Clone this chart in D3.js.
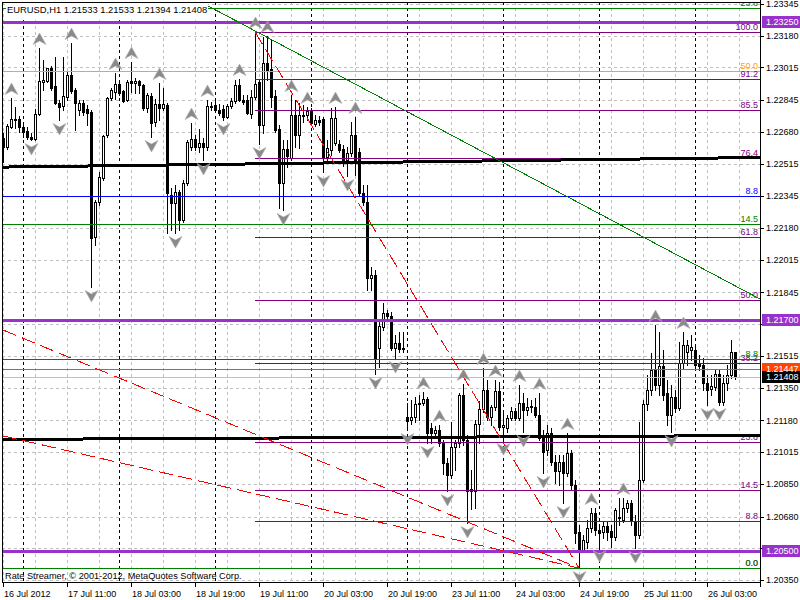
<!DOCTYPE html>
<html><head><meta charset="utf-8">
<script src="https://cdn.jsdelivr.net/npm/d3@7"></script>
<style>body{margin:0;background:#fff}svg{display:block}text{font-family:"Liberation Sans",Arial,sans-serif}</style>
</head><body><svg id="c" width="800" height="600"></svg>
<script>
// ---- DATA (EURUSD H1, 16 Jul 2012 19:00 .. 26 Jul 2012 10:00) ----
const open=[1.22648,1.22602,1.22706,1.22747,1.22747,1.22706,1.22685,1.22654,1.22643,1.22773,
1.22940,1.22945,1.23012,1.22919,1.22830,1.22815,1.22862,1.22976,1.22898,1.22794,
1.22830,1.22799,1.22784,1.22134,1.22316,1.22440,1.22664,1.22856,1.22888,1.22929,
1.22893,1.22846,1.22945,1.22934,1.22945,1.22924,1.22804,1.22867,1.22732,1.22825,
1.22804,1.22820,1.22352,1.22310,1.22368,1.22222,1.22414,1.22602,1.22643,1.22602,
1.22622,1.22602,1.22815,1.22820,1.22794,1.22799,1.22758,1.22815,1.22841,1.22924,
1.22846,1.22846,1.22773,1.22862,1.22940,1.22716,1.23038,1.23007,1.22867,1.22695,
1.22414,1.22591,1.22544,1.22768,1.22664,1.22768,1.22768,1.22789,1.22721,1.22742,
1.22747,1.22550,1.22586,1.22622,1.22617,1.22591,1.22534,1.22570,1.22664,1.22576,
1.22362,1.22316,1.21920,1.21936,1.21556,1.21666,1.21738,1.21723,1.21556,1.21582,
1.21551,1.21198,1.21182,1.21198,1.21265,1.21270,1.21291,1.21140,1.21114,1.21130,
1.21062,1.20958,1.20896,1.21042,1.21062,1.21312,1.21078,1.20813,1.20813,1.21161,
1.21239,1.21338,1.21198,1.21250,1.21333,1.21146,1.21140,1.21192,1.21229,1.21192,
1.21270,1.21234,1.21250,1.21250,1.21208,1.21088,1.21026,1.21114,1.20964,1.20917,
1.20964,1.20906,1.21010,1.20844,1.20600,1.20506,1.20548,1.20620,1.20698,1.20610,
1.20600,1.20631,1.20605,1.20574,1.20672,1.20662,1.20724,1.20750,1.20657,1.20584,
1.20870,1.21265,1.21338,1.21442,1.21364,1.21463,1.21322,1.21208,1.21302,1.21244,
1.21478,1.21536,1.21546,1.21546,1.21478,1.21468,1.21374,1.21343,1.21354,1.21421,
1.21276,1.21374,1.21416,1.21533];
const high=[1.22674,1.22721,1.22856,1.22810,1.22763,1.22732,1.22706,1.22674,1.22799,1.23116,
1.23054,1.23012,1.23023,1.23070,1.22846,1.23070,1.22992,1.23142,1.22908,1.22846,
1.22846,1.22820,1.22794,1.22326,1.22472,1.22664,1.22862,1.22908,1.22986,1.22950,
1.22898,1.22950,1.23044,1.22960,1.22950,1.22929,1.22882,1.22882,1.22851,1.22934,
1.22908,1.22830,1.22388,1.22404,1.22378,1.22430,1.22638,1.22726,1.22664,1.22695,
1.22648,1.22846,1.22836,1.22846,1.22825,1.22820,1.22825,1.22856,1.22950,1.22955,
1.22872,1.22872,1.22898,1.23200,1.22950,1.23174,1.23179,1.23158,1.22898,1.22716,
1.22638,1.22638,1.22872,1.22846,1.22830,1.22820,1.22810,1.22804,1.22768,1.22763,
1.22758,1.22638,1.22804,1.22810,1.22638,1.22612,1.22602,1.22732,1.22758,1.22596,
1.22404,1.22404,1.21978,1.21962,1.21702,1.21790,1.21754,1.21744,1.21624,1.21640,
1.21640,1.21270,1.21286,1.21302,1.21312,1.21328,1.21302,1.21166,1.21151,1.21156,
1.21078,1.20984,1.21172,1.21078,1.21322,1.21369,1.21104,1.20922,1.21182,1.21281,
1.21452,1.21390,1.21260,1.21390,1.21380,1.21234,1.21208,1.21250,1.21244,1.21364,
1.21322,1.21296,1.21286,1.21296,1.21322,1.21130,1.21156,1.21140,1.21000,1.21000,
1.21000,1.21114,1.21026,1.20870,1.20636,1.20584,1.20662,1.20724,1.20724,1.20636,
1.20652,1.20652,1.20636,1.20724,1.20776,1.20776,1.20766,1.20766,1.20688,1.21172,
1.21286,1.21416,1.21530,1.21676,1.21640,1.21546,1.21390,1.21364,1.21338,1.21588,
1.21640,1.21598,1.21624,1.21572,1.21520,1.21504,1.21416,1.21416,1.21442,1.21442,
1.21416,1.21468,1.21598,1.21533];
const low=[1.22524,1.22591,1.22700,1.22700,1.22680,1.22654,1.22643,1.22638,1.22638,1.22768,
1.22898,1.22940,1.22898,1.22825,1.22742,1.22794,1.22846,1.22882,1.22690,1.22768,
1.22768,1.22716,1.21874,1.22092,1.22300,1.22430,1.22654,1.22846,1.22851,1.22872,
1.22836,1.22841,1.22888,1.22882,1.22882,1.22794,1.22784,1.22654,1.22711,1.22742,
1.22794,1.22154,1.22170,1.22154,1.22170,1.22212,1.22404,1.22586,1.22586,1.22576,
1.22534,1.22586,1.22794,1.22784,1.22768,1.22742,1.22752,1.22804,1.22830,1.22841,
1.22825,1.22773,1.22752,1.22851,1.22617,1.22674,1.22950,1.22810,1.22680,1.22284,
1.22274,1.22498,1.22534,1.22602,1.22596,1.22732,1.22742,1.22716,1.22711,1.22716,
1.22472,1.22534,1.22560,1.22612,1.22576,1.22503,1.22451,1.22555,1.22456,1.22352,
1.22300,1.21858,1.21858,1.21421,1.21458,1.21650,1.21712,1.21546,1.21504,1.21536,
1.21536,1.21130,1.21161,1.21172,1.21182,1.21260,1.21062,1.21062,1.21099,1.21047,
1.20901,1.20813,1.20880,1.20922,1.21042,1.21052,1.20646,1.20719,1.20724,1.21062,
1.21224,1.21182,1.21156,1.21234,1.21130,1.21078,1.21120,1.21182,1.21182,1.21182,
1.21120,1.21208,1.21224,1.21198,1.21078,1.20906,1.21000,1.20948,1.20854,1.20844,
1.20750,1.20891,1.20818,1.20542,1.20412,1.20496,1.20516,1.20600,1.20584,1.20522,
1.20568,1.20558,1.20522,1.20558,1.20636,1.20652,1.20704,1.20636,1.20516,1.20568,
1.20860,1.21234,1.21312,1.21338,1.21312,1.21286,1.21156,1.21120,1.21224,1.21234,
1.21452,1.21468,1.21494,1.21452,1.21442,1.21338,1.21260,1.21312,1.21338,1.21260,
1.21260,1.21338,1.21400,1.21394];
const close=[1.22602,1.22711,1.22747,1.22742,1.22706,1.22680,1.22654,1.22643,1.22773,1.22945,
1.22950,1.23012,1.22908,1.22830,1.22810,1.22867,1.22976,1.22893,1.22830,1.22830,
1.22784,1.22778,1.22128,1.22316,1.22446,1.22659,1.22856,1.22898,1.22929,1.22882,
1.22841,1.22940,1.22934,1.22945,1.22924,1.22804,1.22872,1.22726,1.22825,1.22804,
1.22825,1.22362,1.22310,1.22368,1.22222,1.22414,1.22628,1.22643,1.22602,1.22622,
1.22602,1.22815,1.22810,1.22794,1.22778,1.22758,1.22815,1.22841,1.22924,1.22846,
1.22836,1.22778,1.22862,1.22929,1.22716,1.23038,1.23002,1.22862,1.22690,1.22414,
1.22591,1.22555,1.22768,1.22664,1.22768,1.22763,1.22789,1.22726,1.22742,1.22732,
1.22550,1.22596,1.22752,1.22752,1.22586,1.22534,1.22570,1.22664,1.22524,1.22362,
1.22316,1.21920,1.21936,1.21504,1.21671,1.21738,1.21723,1.21556,1.21582,1.21551,
1.21556,1.21177,1.21198,1.21265,1.21270,1.21291,1.21114,1.21114,1.21130,1.21062,
1.20958,1.20896,1.21042,1.21062,1.21312,1.21078,1.20813,1.20823,1.21161,1.21239,
1.21338,1.21198,1.21250,1.21333,1.21146,1.21156,1.21192,1.21229,1.21192,1.21270,
1.21234,1.21250,1.21255,1.21208,1.21088,1.21016,1.21114,1.20964,1.20917,1.20964,
1.20906,1.21010,1.20844,1.20594,1.20506,1.20558,1.20620,1.20698,1.20610,1.20594,
1.20631,1.20600,1.20574,1.20714,1.20678,1.20724,1.20750,1.20657,1.20584,1.20870,
1.21265,1.21338,1.21442,1.21364,1.21463,1.21312,1.21208,1.21302,1.21244,1.21478,
1.21572,1.21572,1.21562,1.21468,1.21463,1.21374,1.21338,1.21359,1.21421,1.21276,
1.21374,1.21416,1.21533,1.21408];

const timeLabels=["16 Jul 2012","17 Jul 11:00","18 Jul 03:00","18 Jul 19:00","19 Jul 11:00","20 Jul 03:00",
"20 Jul 19:00","23 Jul 11:00","24 Jul 03:00","24 Jul 19:00","25 Jul 11:00","26 Jul 03:00"];
const timeLabelBars=[0,16,32,48,64,80,96,112,128,144,160,176];
const daySeparatorBars=[5,29,53,77,101,125,149,173];
const priceTicks=["1.23345","1.23180","1.23015","1.22845","1.22680","1.22515","1.22345","1.22180","1.22015",
"1.21845","1.21680","1.21515","1.21350","1.21180","1.21015","1.20850","1.20680","1.20515","1.20350"];

const upFractals=[2,9,17,28,32,39,47,51,59,63,66,72,76,83,88,105,109,115,120,123,129,134,141,147,155,163,170];
const downFractals=[7,14,22,37,43,50,55,64,70,80,86,93,98,101,106,111,116,125,130,135,140,144,149,158,167,176,179];

const violetLevels=[1.23250,1.21700,1.20500];
const purpleFibBars=[63,144];            // retracement drawn from bar 63 high to bar 144 low
const purpleFibPrices=[1.23200,1.20412]; // 100% , 0%
const purpleFibPct=[0,8.8,14.5,23.6,38.2,50,61.8,76.4,85.5,91.2,100];
const greenFibPrices=[1.32754,1.20413];
const greenFibPct=[0,8.8,14.5,23.6];
const blueLevel=[1.22347], blueLabel=["8.8"];
const orangeLevel=[1.22997], orangeLabel=["50.0"];
const blackTrend1Bars=[0,189.25], blackTrend1Prices=[1.22497,1.22547];
const blackTrend2Bars=[0,189.25], blackTrend2Prices=[1.21081,1.21101];
const greenTrendBars=[51.25,189.25], greenTrendPrices=[1.23335,1.21811];
const redTrendA_Bars=[0,144], redTrendA_Prices=[1.21650,1.20412];
const redTrendB_Bars=[0,144], redTrendB_Prices=[1.21099,1.20412];
const redTrendC_Bars=[63,144], redTrendC_Prices=[1.23200,1.20412];
const bid=[1.21408], ask=[1.21447];
const title="EURUSD,H1  1.21533 1.21533 1.21394 1.21408";
const copyright="Rate Streamer, \u00A9 2001-2012, MetaQuotes Software Corp.";

// ---- CHART ----
const svg=d3.select("#c");
const L=2,R=760,T=2,B=582;
const x=d3.scaleLinear().domain([0,183]).range([3,735]);
const y=d3.scaleLinear().domain([1.20350,1.23345]).range([580,4]);
const py=p=>Math.round(y(p))+0.5;

svg.append("rect").attr("width",800).attr("height",600).attr("fill","#fff");
svg.append("defs").append("clipPath").attr("id","clip").append("rect")
  .attr("x",L).attr("y",T).attr("width",R-L).attr("height",B-T);

const grid=svg.append("g").attr("clip-path","url(#clip)").attr("shape-rendering","crispEdges");
grid.selectAll("line.h").data(priceTicks).join("line")
  .attr("x1",L).attr("x2",R).attr("y1",d=>py(+d)).attr("y2",d=>py(+d))
  .attr("stroke","#c0c0c0").attr("stroke-dasharray","3,3");
grid.selectAll("line.v").data(d3.range(0,190,8)).join("line")
  .attr("x1",d=>Math.round(x(d))+0.5).attr("x2",d=>Math.round(x(d))+0.5).attr("y1",T).attr("y2",B)
  .attr("stroke","#c0c0c0").attr("stroke-dasharray","3,3");
grid.selectAll("line.d").data(daySeparatorBars).join("line")
  .attr("x1",d=>Math.round(x(d))+0.5).attr("x2",d=>Math.round(x(d))+0.5).attr("y1",T).attr("y2",B)
  .attr("stroke","#000").attr("stroke-dasharray","3,3");

// candles
const bars=open.map((o,i)=>({i,o,h:high[i],l:low[i],c:close[i]}));
const cg=svg.append("g").attr("clip-path","url(#clip)").attr("shape-rendering","crispEdges");
const cs=cg.selectAll("g").data(bars).join("g");
cs.append("line")
  .attr("x1",d=>Math.round(x(d.i))+0.5).attr("x2",d=>Math.round(x(d.i))+0.5)
  .attr("y1",d=>Math.round(y(d.h))).attr("y2",d=>Math.round(y(d.l))+1).attr("stroke","#000");
cs.each(function(d){
  const k=Math.round(x(d.i));
  const yo=Math.round(y(d.o)), yc=Math.round(y(d.c));
  const top=Math.min(yo,yc), bot=Math.max(yo,yc);
  const s=d3.select(this);
  if(bot-top<1){ s.append("rect").attr("x",k-1).attr("y",top).attr("width",3).attr("height",1).attr("fill","#000"); }
  else if(d.c>d.o){ s.append("rect").attr("x",k-0.5).attr("y",top+0.5).attr("width",2).attr("height",bot-top)
      .attr("fill","#fff").attr("stroke","#000"); }
  else { s.append("rect").attr("x",k-1).attr("y",top).attr("width",3).attr("height",bot-top+1).attr("fill","#000"); }
});

// objects
const og=svg.append("g").attr("clip-path","url(#clip)").attr("shape-rendering","crispEdges");
function hline(p,x1,color,w){
  const yy=w===3?Math.round(y(p)):py(p);
  og.append("line").attr("x1",x1).attr("x2",R).attr("y1",yy).attr("y2",yy).attr("stroke",color).attr("stroke-width",w);
}
function lvlLabel(p,txt,color){
  og.append("text").attr("x",758).attr("y",Math.round(y(p))-2).attr("text-anchor","end")
    .attr("font-size",9).attr("fill",color).text(txt);
}
function trend(bs,ps,color,w,dash){
  const ln=og.append("line").attr("x1",x(bs[0])).attr("y1",y(ps[0])).attr("x2",x(bs[1])).attr("y2",y(ps[1]))
    .attr("stroke",color).attr("stroke-width",w);
  if(dash) ln.attr("stroke-dasharray",dash);
}
hline(bid[0],L,"#c0c0c0",1);
hline(ask[0],L,"#ff4500",1);
hline(orangeLevel[0],L,"#ffa500",1); lvlLabel(orangeLevel[0],orangeLabel[0],"#ffa500");
hline(blueLevel[0],L,"#0000ff",1); lvlLabel(blueLevel[0],blueLabel[0],"#0000ff");
const fx=Math.round(x(purpleFibBars[0]));
purpleFibPct.forEach(pc=>{
  const p=purpleFibPrices[1]+pc/100*(purpleFibPrices[0]-purpleFibPrices[1]);
  hline(p,fx,"#800080",1); lvlLabel(p,pc.toFixed(1),"#800080");
});
greenFibPct.forEach(pc=>{
  const p=greenFibPrices[1]+pc/100*(greenFibPrices[0]-greenFibPrices[1]);
  hline(p,L,"#008000",1); lvlLabel(p,pc.toFixed(1),"#008000");
});
violetLevels.forEach(p=>hline(p,L,"#9932cc",3));
trend(blackTrend1Bars,blackTrend1Prices,"#000",3);
trend(blackTrend2Bars,blackTrend2Prices,"#000",3);
trend(greenTrendBars,greenTrendPrices,"#008000",1);
trend(redTrendA_Bars,redTrendA_Prices,"#ff0000",1,"14,6");
trend(redTrendB_Bars,redTrendB_Prices,"#ff0000",1,"14,6");
trend(redTrendC_Bars,redTrendC_Prices,"#ff0000",1,"14,6");

// fractal arrows
const ag=svg.append("g").attr("clip-path","url(#clip)");
ag.selectAll("path.u").data(upFractals).join("path")
  .attr("transform",d=>`translate(${Math.round(x(d))+0.5},${Math.round(y(high[d]))-9})`)
  .attr("d","M0,-6L6.5,5.5L0,2L-6.5,5.5Z").attr("fill","#8a8a8a").attr("stroke","#b0b0b0").attr("stroke-width",0.6);
ag.selectAll("path.d").data(downFractals).join("path")
  .attr("transform",d=>`translate(${Math.round(x(d))+0.5},${Math.round(y(low[d]))+9})`)
  .attr("d","M0,6L6.5,-5.5L0,-2L-6.5,-5.5Z").attr("fill","#8a8a8a").attr("stroke","#b0b0b0").attr("stroke-width",0.6);

// frame
const fg=svg.append("g").attr("shape-rendering","crispEdges");
fg.append("line").attr("x1",L+0.5).attr("x2",L+0.5).attr("y1",T).attr("y2",B).attr("stroke","#000");
fg.append("line").attr("x1",L).attr("x2",R+1).attr("y1",B+0.5).attr("y2",B+0.5).attr("stroke","#000");
fg.append("line").attr("x1",R+0.5).attr("x2",R+0.5).attr("y1",0).attr("y2",B+5).attr("stroke","#000");
fg.append("line").attr("x1",L).attr("x2",R).attr("y1",T+0.5).attr("y2",T+0.5).attr("stroke","#000");

// price axis (tick labels hidden behind highlighted labels are skipped)
const hl=[...violetLevels.map(p=>({p,bg:"#9932cc"})),{p:ask[0],bg:"#ff4500"},{p:bid[0],bg:"#000"}];
const visibleTicks=priceTicks.filter(t=>hl.every(h=>Math.abs(y(+t)-y(h.p))>9));
const pa=svg.append("g");
pa.selectAll("line").data(priceTicks).join("line").attr("shape-rendering","crispEdges")
  .attr("x1",R).attr("x2",R+4).attr("y1",d=>py(+d)).attr("y2",d=>py(+d)).attr("stroke","#000");
pa.selectAll("text").data(visibleTicks).join("text")
  .attr("x",766).attr("y",d=>y(+d)).attr("dy","0.35em").attr("font-size",9).attr("fill","#000").text(d=>d);
const hg=svg.append("g");
hg.selectAll("rect").data(hl).join("rect").attr("shape-rendering","crispEdges")
  .attr("x",R+2).attr("y",d=>Math.round(y(d.p))-6).attr("width",800-R-2).attr("height",12).attr("fill",d=>d.bg);
hg.selectAll("text").data(hl).join("text")
  .attr("x",766).attr("y",d=>Math.round(y(d.p))).attr("dy","0.35em").attr("font-size",9).attr("fill","#fff")
  .text(d=>d.p.toFixed(5));

// time axis
const ta=svg.append("g");
ta.selectAll("line").data(timeLabelBars).join("line").attr("shape-rendering","crispEdges")
  .attr("x1",d=>Math.round(x(d))+0.5).attr("x2",d=>Math.round(x(d))+0.5).attr("y1",B).attr("y2",B+5).attr("stroke","#000");
ta.selectAll("text").data(timeLabels).join("text")
  .attr("x",(d,i)=>Math.round(x(timeLabelBars[i]))+1).attr("y",597).attr("font-size",9).attr("fill","#000").text(d=>d);

// title & copyright
svg.append("rect").attr("x",6).attr("y",3).attr("width",202).attr("height",15).attr("fill","#fff");
svg.append("text").attr("x",7).attr("y",13).attr("font-size",9.4).attr("fill","#000").text(title);
svg.append("text").attr("x",5).attr("y",579).attr("font-size",9.2).attr("fill","#000").text(copyright);
</script></body></html>
